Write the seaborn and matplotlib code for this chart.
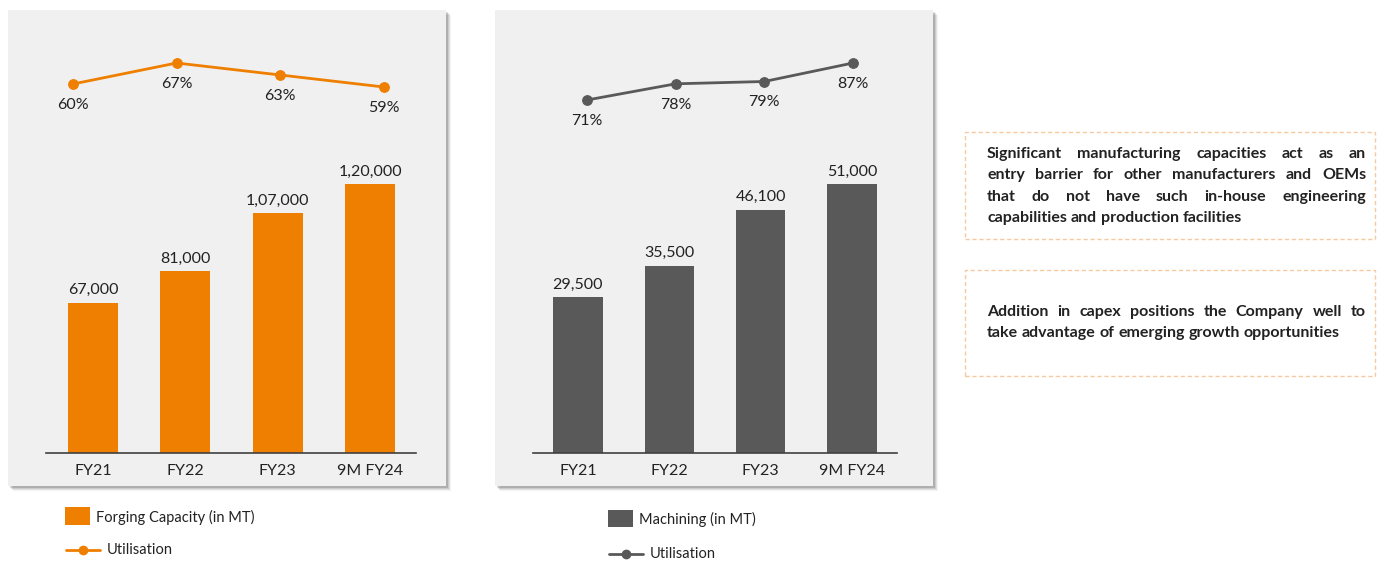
import numpy as np
import pandas as pd
import matplotlib
matplotlib.use("Agg")
import matplotlib.pyplot as plt
import seaborn as sns
from matplotlib.patches import Rectangle
from matplotlib.lines import Line2D

sns.set_theme(style="white")
plt.rcParams['font.family'] = ['Lato', 'DejaVu Sans']

# ---------------- data ----------------
categories = ["FY21", "FY22", "FY23", "9M FY24"]
forging_capacity = [67000, 81000, 107000, 120000]
forging_util = [60, 67, 63, 59]
machining_capacity = [29500, 35500, 46100, 51000]
machining_util = [71, 78, 79, 87]
forging_labels = ["67,000", "81,000", "1,07,000", "1,20,000"]
machining_labels = ["29,500", "35,500", "46,100", "51,000"]
legend_bar_left = "Forging Capacity (in MT)"
legend_bar_right = "Machining (in MT)"
legend_line = "Utilisation"
box_texts = [
    ["Significant manufacturing capacities act as an",
     "entry barrier for other manufacturers and OEMs",
     "that do not have such in-house engineering",
     "capabilities and production facilities"],
    ["Addition in capex positions the Company well to",
     "take advantage of emerging growth opportunities"],
]

ORANGE = "#EF7F00"
GREY = "#595959"
PANEL = "#F0F0F0"
TEXT = "#222222"

W, H = 1383, 562
fig = plt.figure(figsize=(W / 100, H / 100), dpi=100)
fig.patch.set_facecolor("white")


def rect(x0, y0, x1, y1):
    return [x0 / W, 1 - y1 / H, (x1 - x0) / W, (y1 - y0) / H]


def fpt(px, py):
    return (px / W, 1 - py / H)


def panel(x0, y0, x1, y1):
    for d, a in [(5, 0.08), (4, 0.12), (3, 0.16), (2, 0.22)]:
        fig.patches.append(Rectangle(fpt(x0 + d, y1 + d), (x1 - x0) / W, (y1 - y0) / H,
                                     transform=fig.transFigure, facecolor="#000000",
                                     alpha=a * 0.6, edgecolor="none", zorder=-3))
    fig.patches.append(Rectangle(fpt(x0, y1), (x1 - x0) / W, (y1 - y0) / H,
                                 transform=fig.transFigure, facecolor=PANEL,
                                 edgecolor="none", zorder=-2))


panel(8, 10, 446, 486)
panel(495, 10, 933, 486)


def bar_chart(ax_rect, values, labels, color, xl, ymax):
    ax = fig.add_axes(ax_rect)
    ax.patch.set_alpha(0)
    df = pd.DataFrame({"cat": categories, "val": values})
    sns.barplot(data=df, x="cat", y="val", color=color, saturation=1, width=0.54,
                linewidth=0, edgecolor=color, ax=ax)
    ax.set_xlim(*xl)
    ax.set_ylim(0, ymax)
    for s in ["top", "right", "left"]:
        ax.spines[s].set_visible(False)
    ax.spines["bottom"].set_color("#404040")
    ax.spines["bottom"].set_linewidth(1.2)
    ax.set_yticks([])
    ax.set_xlabel("")
    ax.set_ylabel("")
    ax.tick_params(axis="x", length=0, pad=8, labelsize=11.5, labelcolor=TEXT)
    ax.bar_label(ax.containers[0], labels=labels, padding=4, fontsize=11.5, color=TEXT)
    return ax


def line_chart(ax_rect, values, color, xl, yl):
    ax = fig.add_axes(ax_rect)
    ax.patch.set_alpha(0)
    df = pd.DataFrame({"cat": categories, "val": values})
    sns.lineplot(data=df, x="cat", y="val", color=color, marker="o", markersize=7,
                 markeredgecolor=color, linewidth=2, ax=ax, sort=False)
    ax.set_xlim(*xl)
    ax.set_ylim(*yl)
    ax.axis("off")
    for i, v in enumerate(values):
        ax.annotate(f"{v}%", (i, v), xytext=(0, -21), textcoords="offset pixels",
                    ha="center", va="center", fontsize=11.5, color=TEXT)
    return ax


# left panel
bar_chart(rect(46, 150, 416, 453), forging_capacity, forging_labels, ORANGE,
          (-0.509, 3.498), 303 / (269 / 120000))
line_chart(rect(46, 40, 416, 130), forging_util, ORANGE,
           (-0.26, 3.31), (60 - 46 / 3, 60 + 44 / 3))

# right panel
bar_chart(rect(533, 150, 897, 453), machining_capacity, machining_labels, GREY,
          (-0.49, 3.49), 303 / (269 / 51000))
line_chart(rect(533, 40, 897, 130), machining_util, GREY,
           (-0.609, 3.496), (71 - 30 / 2.3125, 71 + 60 / 2.3125))


# legends
def legend(sq, tx, ty, line, lx, ly, color, label):
    x0, y0, x1, y1 = sq
    fig.patches.append(Rectangle(fpt(x0, y1), (x1 - x0) / W, (y1 - y0) / H,
                                 transform=fig.transFigure, facecolor=color, edgecolor="none"))
    fig.text(*fpt(tx, ty), label, ha="left", va="center", fontsize=10.5, color=TEXT)
    lx0, lx1, lyy, mx = line
    fig.lines.append(Line2D([lx0 / W, lx1 / W], [1 - lyy / H] * 2, transform=fig.transFigure,
                            color=color, linewidth=2))
    fig.lines.append(Line2D([mx / W], [1 - lyy / H], transform=fig.transFigure, color=color,
                            marker="o", markersize=6))
    fig.text(*fpt(lx, ly), legend_line, ha="left", va="center", fontsize=10.5, color=TEXT)


legend((65, 507, 90, 525), 96, 517, (66, 100, 550, 83), 107, 550, ORANGE, legend_bar_left)
legend((608, 510, 633, 527), 639, 519, (609, 643, 554, 626), 650, 554, GREY, legend_bar_right)

# text boxes
for (y0, y1) in [(132, 239), (270, 376)]:
    fig.patches.append(Rectangle(fpt(965, y1), (1375 - 965) / W, (y1 - y0) / H,
                                 transform=fig.transFigure, facecolor="white",
                                 edgecolor="#F7C9A0", linewidth=1, linestyle=(0, (3, 2)),
                                 zorder=-1))

fig.canvas.draw()
renderer = fig.canvas.get_renderer()


def justified(lines, ys, xl=987, xr=1366, fs=11.5):
    probe1 = fig.text(0, 0, "a a", fontsize=fs, fontweight="bold")
    probe2 = fig.text(0, 0, "aa", fontsize=fs, fontweight="bold")
    space = probe1.get_window_extent(renderer).width - probe2.get_window_extent(renderer).width
    probe1.remove()
    probe2.remove()
    for k, (line, y) in enumerate(zip(lines, ys)):
        words = line.split(" ")
        last = (k == len(lines) - 1)
        arts = [fig.text(0, 1 - y / H, w, ha="left", va="center", fontsize=fs,
                         fontweight="bold", color=TEXT) for w in words]
        widths = [a.get_window_extent(renderer).width for a in arts]
        if last or len(words) == 1:
            gap = space
        else:
            gap = (xr - xl - sum(widths)) / (len(words) - 1)
        x = xl
        for a, w in zip(arts, widths):
            a.set_x(x / W)
            x += w + gap


justified(box_texts[0], [154, 175, 197, 218])
justified(box_texts[1], [312, 333])

fig.savefig("out.png", dpi=100)
